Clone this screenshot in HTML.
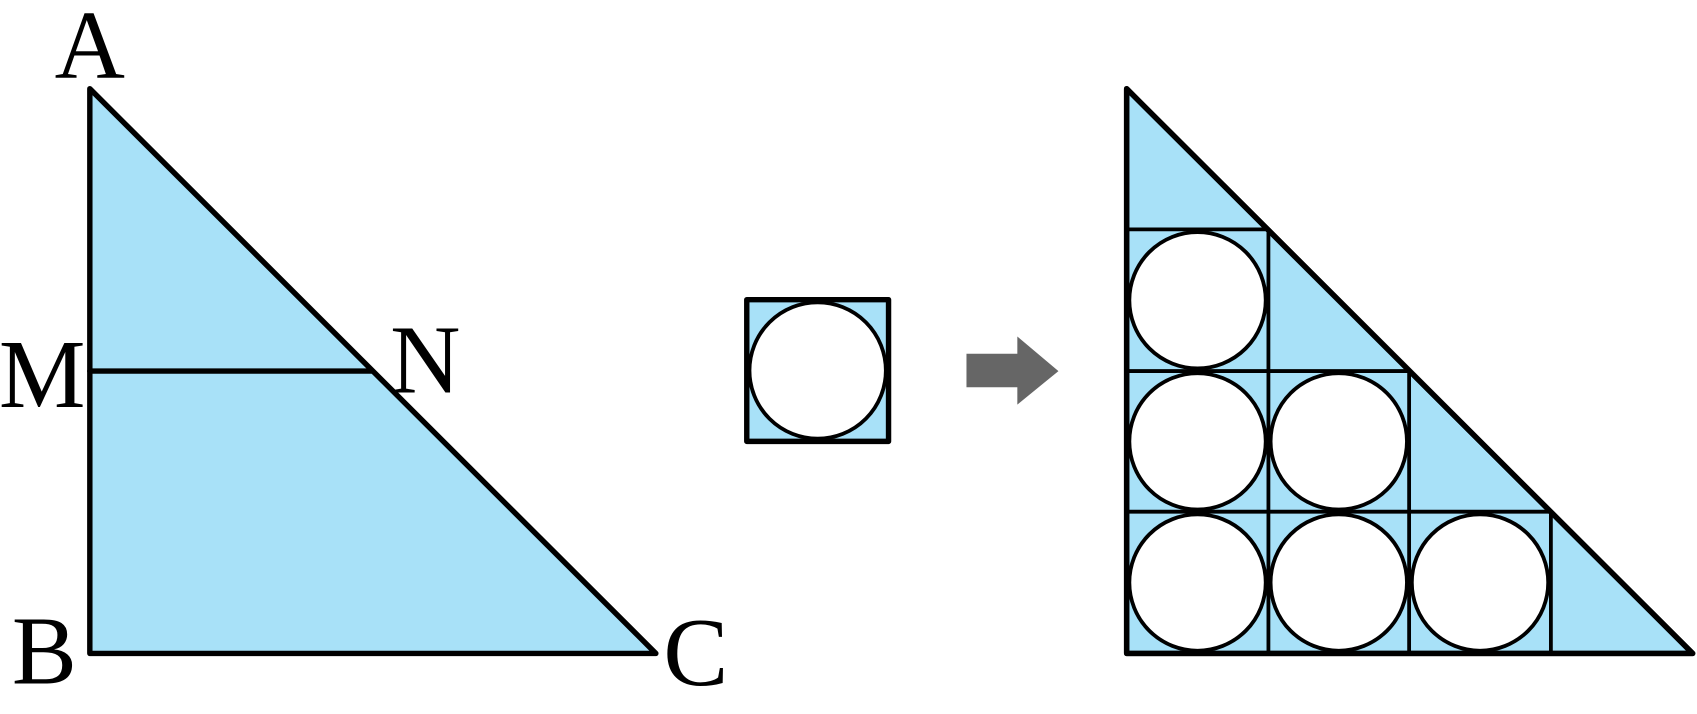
<!DOCTYPE html>
<html><head><style>html,body{margin:0;padding:0;background:#fff;}svg{display:block}</style></head>
<body>
<svg width="1697" height="714" viewBox="0 0 1568 660" preserveAspectRatio="none" xmlns="http://www.w3.org/2000/svg">
<g stroke="#000" stroke-linejoin="round" stroke-linecap="round">
<polygon points="83,82 83,604 606,604" fill="#a8e1f8" stroke-width="5"/>
<line x1="83" y1="343" x2="343" y2="343" stroke-width="5"/>
<rect x="690" y="277" width="131" height="131" fill="#a8e1f8" stroke-width="5"/>
<circle cx="755.5" cy="342.5" r="63" fill="#fff" stroke-width="3.5"/>
<polygon points="1041,82 1041,604 1564,604" fill="#a8e1f8" stroke-width="5"/>
<g stroke-width="3.5" fill="#fff">
<line x1="1041" y1="212" x2="1172" y2="212"/>
<line x1="1041" y1="343" x2="1302" y2="343"/>
<line x1="1041" y1="473" x2="1433" y2="473"/>
<line x1="1172" y1="212" x2="1172" y2="604"/>
<line x1="1302" y1="343" x2="1302" y2="604"/>
<line x1="1433" y1="473" x2="1433" y2="604"/>
<circle cx="1106.5" cy="277.5" r="63"/>
<circle cx="1106.5" cy="408" r="63"/>
<circle cx="1237" cy="408" r="63"/>
<circle cx="1106.5" cy="538.5" r="63"/>
<circle cx="1237" cy="538.5" r="63"/>
<circle cx="1367.5" cy="538.5" r="63"/>
</g>
<polygon points="1041,82 1041,604 1564,604" fill="none" stroke-width="5"/>
</g>
<polygon points="893,327 940,327 940,311 978,343 940,374 940,358 893,358" fill="#666"/>
<g font-family="Liberation Serif, serif" font-size="90" fill="#000">
<text x="83" y="72" text-anchor="middle">A</text>
<text x="39" y="376" text-anchor="middle">M</text>
<text x="393" y="363" text-anchor="middle">N</text>
<text x="41" y="632" text-anchor="middle">B</text>
<text x="643" y="633" text-anchor="middle">C</text>
</g>
</svg>
</body></html>
